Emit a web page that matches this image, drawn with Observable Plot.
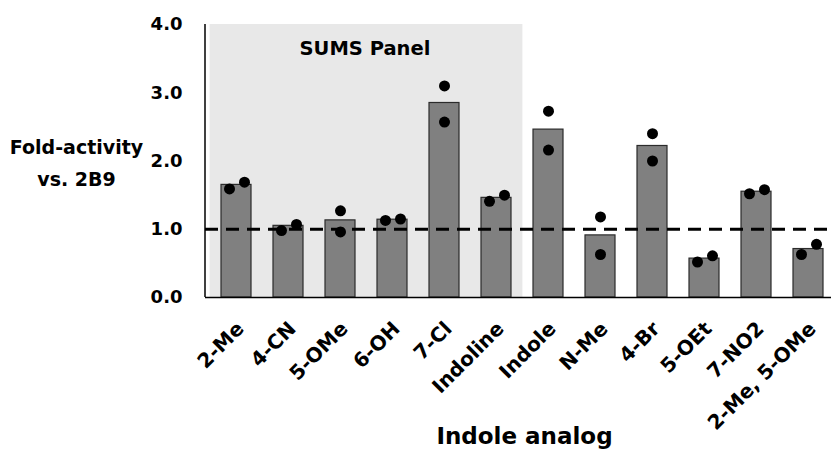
<!DOCTYPE html>
<html><head><meta charset="utf-8">
<script src="https://cdn.jsdelivr.net/npm/d3@7"></script>
<script src="https://cdn.jsdelivr.net/npm/@observablehq/plot@0.6"></script>
<style>body{margin:0;background:#fff}</style>
</head><body><div id="chart"></div>
<script>
const analogs = ["2-Me","4-CN","5-OMe","6-OH","7-Cl","Indoline","Indole","N-Me","4-Br","5-OEt","7-NO2","2-Me, 5-OMe"];
const sumsPanel = ["2-Me","4-CN","5-OMe","6-OH","7-Cl","Indoline"];
const meanActivity = [1.65,1.05,1.13,1.14,2.85,1.46,2.46,0.91,2.22,0.57,1.55,0.71];
const replicate1 = [1.59,0.98,1.27,1.13,3.10,1.41,2.73,1.18,2.40,0.52,1.52,0.63];
const replicate2 = [1.69,1.07,0.96,1.15,2.57,1.50,2.16,0.63,2.00,0.61,1.58,0.78];
const yTicks = [0,1,2,3,4];
const referenceLevel = 1;

const yMax = d3.max(yTicks);
const bars = analogs.map((a,i)=>({analog:a, value:meanActivity[i]}));
const reps = analogs.map((a,i)=>({analog:a, r1:replicate1[i], r2:replicate2[i], close:Math.abs(replicate1[i]-replicate2[i])<0.2}));
const closeReps = reps.filter(d=>d.close);
const farReps = reps.filter(d=>!d.close);
const font = "DejaVu Sans";

const yAxisLine = (index, scales, values, dims) =>
  d3.create("svg:line")
    .attr("x1", dims.marginLeft).attr("x2", dims.marginLeft)
    .attr("y1", scales.y(yMax)).attr("y2", scales.y(0))
    .attr("stroke", "#000").attr("stroke-width", 1.5).node();

const chart = Plot.plot({
  width: 831,
  height: 450,
  marginLeft: 205,
  marginRight: 0,
  marginTop: 24,
  marginBottom: 153,
  style: {fontFamily: font, fontWeight: "bold", fontSize: "18px", color: "#000", background: "#fff"},
  x: {type: "band", domain: analogs, range: [205, 839], paddingInner: 0.43, paddingOuter: 0.22},
  y: {domain: [0, yMax]},
  marks: [
    Plot.barY(sumsPanel, {x: d=>d, y: yMax, fill: "#e8e8e8", insetLeft: -11.4, insetRight: -11.4}),
    Plot.barY(bars, {x: "analog", y: "value", fill: "#808080", stroke: "#2b2b2b", strokeWidth: 1.2}),
    Plot.ruleY([referenceLevel], {stroke: "#000", strokeWidth: 3, strokeDasharray: "13,8"}),
    Plot.ruleY([0], {stroke: "#000", strokeWidth: 1.5}),
    yAxisLine,
    Plot.dot(closeReps, {x: "analog", y: "r1", r: 5.5, fill: "#000", dx: -7}),
    Plot.dot(closeReps, {x: "analog", y: "r2", r: 5.5, fill: "#000", dx: 8}),
    Plot.dot(farReps, {x: "analog", y: "r1", r: 5.5, fill: "#000"}),
    Plot.dot(farReps, {x: "analog", y: "r2", r: 5.5, fill: "#000"}),
    Plot.axisY({ticks: yTicks, tickFormat: d3.format(".1f"), tickSize: 0, tickPadding: 23, fontSize: 18, fontWeight: "bold", label: null}),
    Plot.axisX({tickRotate: -45, tickSize: 0, tickPadding: 28, dx: 4, fontSize: 20, fontWeight: "bold", label: null}),
    Plot.text(["Fold-activity\nvs. 2B9"], {frameAnchor: "left", dx: -129, dy: -1.5, textAnchor: "middle", lineHeight: 1.68, fontSize: 19, fontWeight: "bold"}),
    Plot.text(["SUMS Panel"], {frameAnchor: "top-left", dx: 159.5, dy: 17, textAnchor: "middle", fontSize: 19.5, fontWeight: "bold"}),
    Plot.text(["Indole analog"], {frameAnchor: "bottom", dx: 6, dy: 146, textAnchor: "middle", fontSize: 23, fontWeight: "bold"})
  ]
});
document.getElementById("chart").appendChild(chart);
</script>
</body></html>
